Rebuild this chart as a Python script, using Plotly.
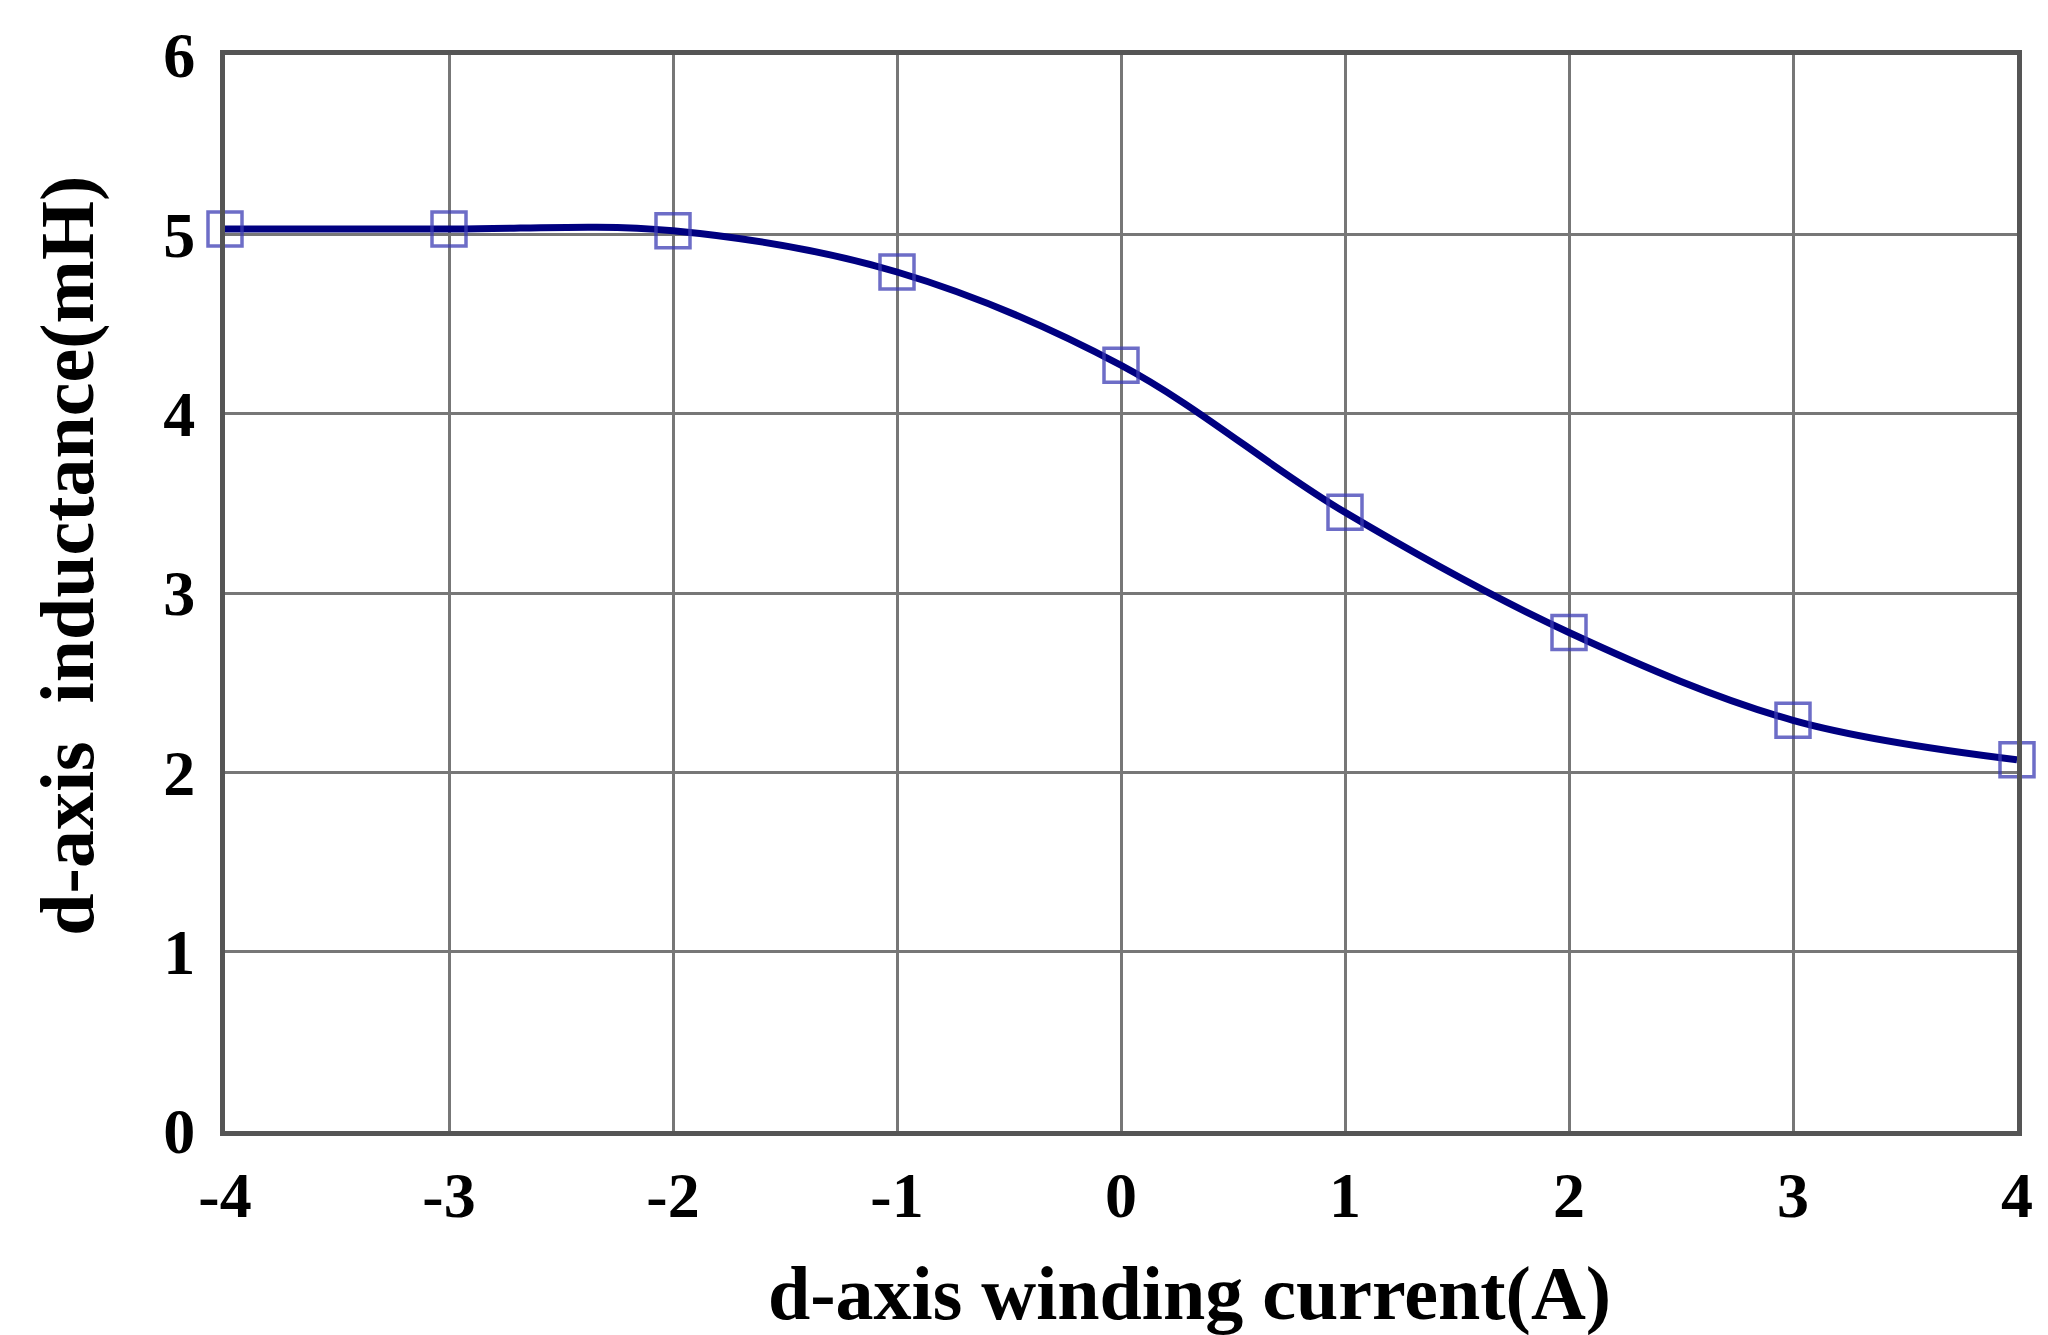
import plotly.graph_objects as go

# d-axis winding current (A) and measured inductance (mH)
current = [-4, -3, -2, -1, 0, 1, 2, 3, 4]
inductance = [5.03, 5.03, 5.02, 4.79, 4.27, 3.45, 2.78, 2.29, 2.07]

x_ticks = [-4, -3, -2, -1, 0, 1, 2, 3, 4]
x_labels = ['-4', '-3', '-2', '-1', '0', '1', '2', '3', '4']
y_ticks = [0, 1, 2, 3, 4, 5, 6]

serif = 'Liberation Serif'
tick_font = dict(family=serif, size=64, color='black', weight='bold')
title_font = dict(family=serif, size=76, color='black', weight='bold')

fig = go.Figure()

fig.add_trace(go.Scatter(
    x=current,
    y=inductance,
    mode='lines+markers',
    cliponaxis=False,
    line=dict(color='#000080', width=7, shape='spline', smoothing=1.0),
    marker=dict(symbol='square-open', size=34, color='rgba(60,60,180,0.75)',
                line=dict(width=3.5, color='rgba(60,60,180,0.75)')),
    showlegend=False
))

axis_style = dict(
    ticks='',
    showgrid=True,
    gridcolor='#777777',
    gridwidth=3,
    showline=True,
    mirror=True,
    linecolor='#555555',
    linewidth=5,
    zeroline=False,
    tickfont=tick_font,
)

fig.update_layout(
    width=2048,
    height=1335,
    paper_bgcolor='white',
    plot_bgcolor='white',
    margin=dict(l=217, r=39, t=37, b=212),
    xaxis=dict(range=[-4, 4], tickvals=x_ticks, ticktext=x_labels,
               ticklabelstandoff=4, **axis_style),
    yaxis=dict(range=[0, 6], tickvals=y_ticks, ticklabelstandoff=12, **axis_style),
)

# axis titles placed as annotations to match the original offsets
fig.add_annotation(
    text='d-axis winding current(A)', font=title_font,
    xref='paper', yref='paper', x=0.5385, y=-0.151,
    xanchor='center', yanchor='middle', showarrow=False
)
fig.add_annotation(
    text='d-axis\u00a0 inductance(mH)', font=title_font, textangle=-90,
    xref='paper', yref='paper', x=-0.088, y=0.535,
    xanchor='center', yanchor='middle', showarrow=False
)

fig.write_html("out.html")
